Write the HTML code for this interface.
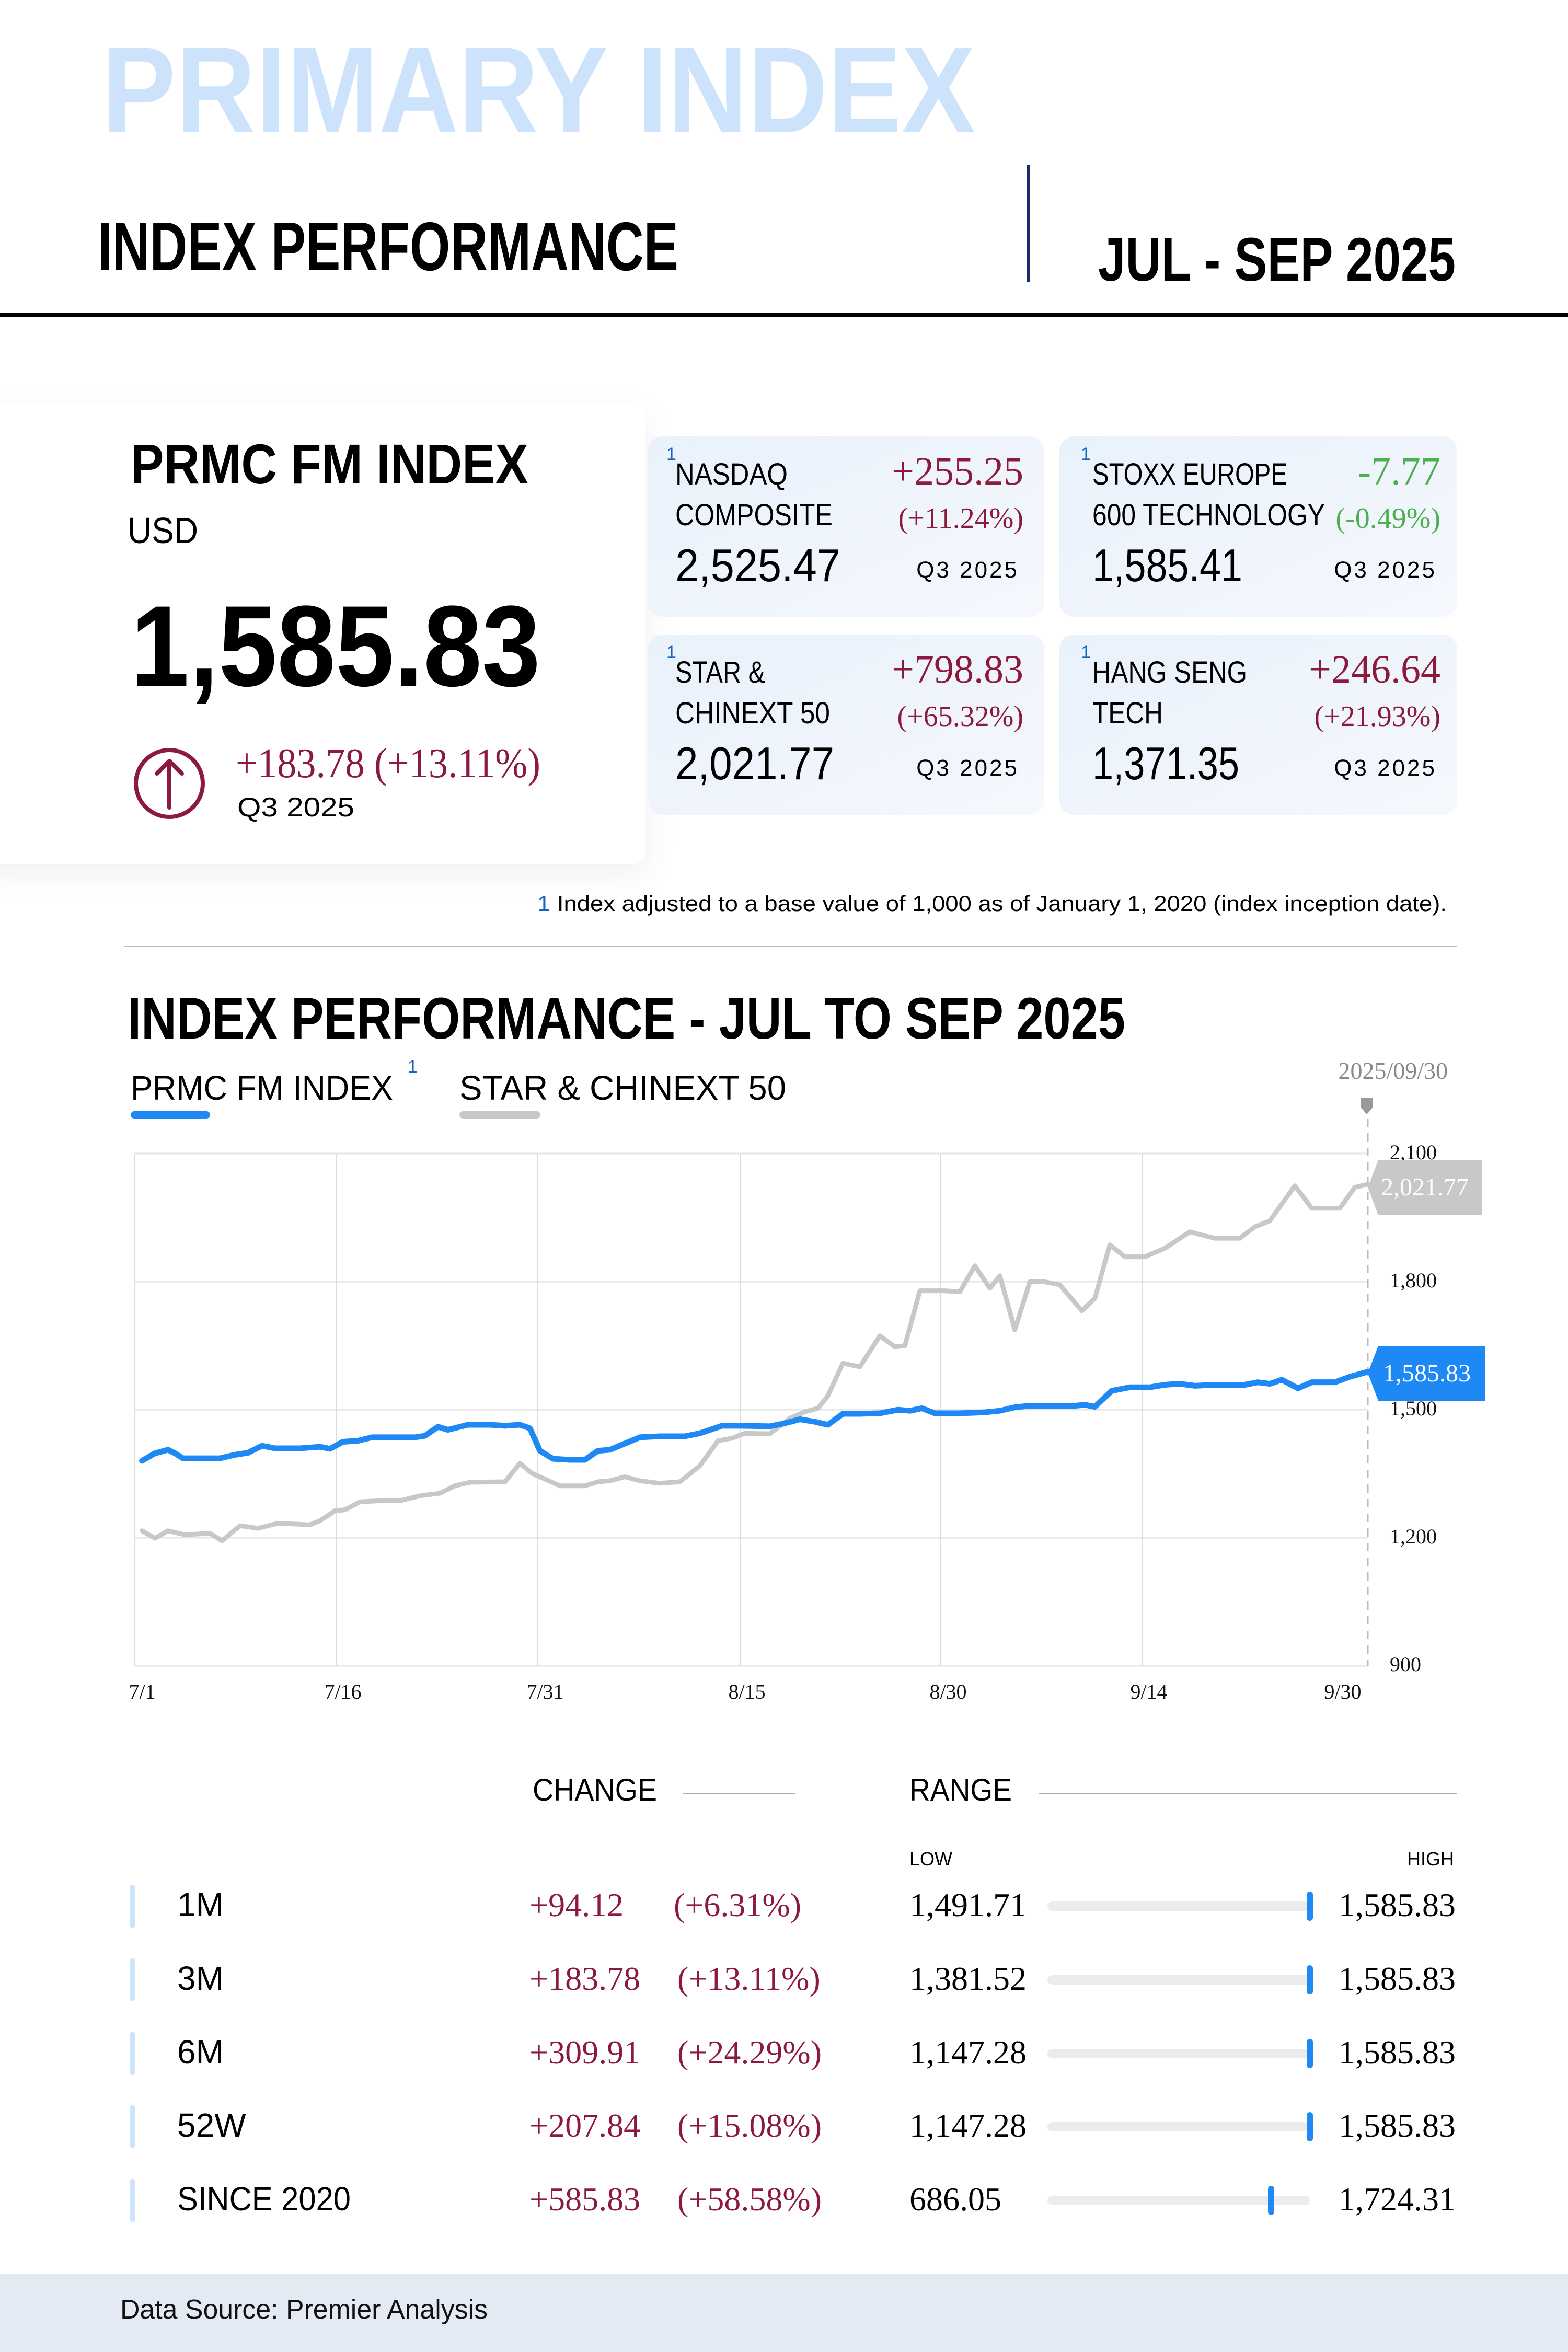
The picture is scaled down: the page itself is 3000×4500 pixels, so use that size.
<!DOCTYPE html>
<html><head><meta charset="utf-8"><style>
html,body{margin:0;padding:0;background:#fff}
svg{display:block}
text{font-family:"Liberation Sans",sans-serif}
text.s,.s text{font-family:"Liberation Serif",serif}
</style></head><body>
<svg width="3000" height="4500" viewBox="0 0 3000 4500" xmlns="http://www.w3.org/2000/svg">
<defs>
<linearGradient id="cg" x1="0" y1="0" x2="1" y2="1"><stop offset="0" stop-color="#e9f1fb"/><stop offset="1" stop-color="#f5f8fd"/></linearGradient>
<filter id="sh" x="-20%" y="-20%" width="140%" height="140%"><feDropShadow dx="0" dy="20" stdDeviation="30" flood-color="#000" flood-opacity="0.06"/></filter>
</defs>
<rect width="3000" height="4500" fill="#fff"/>
<!-- header -->
<text x="195" y="253" font-size="235" font-weight="bold" fill="#cce3fb" textLength="1671" lengthAdjust="spacingAndGlyphs">PRIMARY INDEX</text>
<text x="187" y="517" font-size="132" font-weight="bold" fill="#000" textLength="1111" lengthAdjust="spacingAndGlyphs">INDEX PERFORMANCE</text>
<rect x="1964" y="316" width="6" height="224" fill="#1a2a6c"/>
<text x="2101" y="537" font-size="118" font-weight="bold" fill="#000" textLength="684" lengthAdjust="spacingAndGlyphs">JUL - SEP 2025</text>
<rect x="0" y="599" width="3000" height="8" fill="#000"/>

<!-- main card -->
<rect x="-40" y="775" width="1275" height="878" rx="24" fill="#fff" filter="url(#sh)"/>
<text x="250" y="925" font-size="108" font-weight="bold" textLength="761" lengthAdjust="spacingAndGlyphs">PRMC FM INDEX</text>
<text x="244" y="1039" font-size="70" textLength="135" lengthAdjust="spacingAndGlyphs">USD</text>
<text x="250" y="1312" font-size="220" font-weight="bold" textLength="784" lengthAdjust="spacingAndGlyphs">1,585.83</text>
<circle cx="324" cy="1499" r="64" fill="none" stroke="#8b1a3d" stroke-width="8"/>
<path d="M324 1545 V1458 M300 1480 L324 1456 L348 1480" fill="none" stroke="#8b1a3d" stroke-width="8" stroke-linecap="round" stroke-linejoin="round"/>
<text class="s" x="451" y="1487" font-size="80" fill="#8b1a3d" textLength="583" lengthAdjust="spacingAndGlyphs">+183.78 (+13.11%)</text>
<text x="454" y="1562" font-size="52" textLength="224" lengthAdjust="spacingAndGlyphs">Q3 2025</text>

<!-- cards -->
<rect x="1240" y="835" width="758" height="345" rx="28" fill="url(#cg)"/>
<rect x="2027" y="835" width="761" height="345" rx="28" fill="url(#cg)"/>
<rect x="1240" y="1214" width="758" height="345" rx="28" fill="url(#cg)"/>
<rect x="2027" y="1214" width="761" height="345" rx="28" fill="url(#cg)"/>

<g font-size="58">
<text x="1275" y="880" font-size="34" fill="#1565c0">1</text>
<text x="1292" y="927" textLength="215" lengthAdjust="spacingAndGlyphs">NASDAQ</text>
<text x="1292" y="1005" textLength="301" lengthAdjust="spacingAndGlyphs">COMPOSITE</text>
<text class="s" x="1958" y="927" font-size="76" fill="#8b1a3d" text-anchor="end">+255.25</text>
<text class="s" x="1958" y="1010" font-size="56" fill="#8b1a3d" text-anchor="end">(+11.24%)</text>
<text x="1292" y="1112" font-size="88" textLength="316" lengthAdjust="spacingAndGlyphs">2,525.47</text>
<text x="1950" y="1105" font-size="44" text-anchor="end" letter-spacing="4">Q3 2025</text>

<text x="2068" y="880" font-size="34" fill="#1565c0">1</text>
<text x="2090" y="927" textLength="373" lengthAdjust="spacingAndGlyphs">STOXX EUROPE</text>
<text x="2090" y="1005" textLength="445" lengthAdjust="spacingAndGlyphs">600 TECHNOLOGY</text>
<text class="s" x="2756" y="927" font-size="76" fill="#4caf50" text-anchor="end">-7.77</text>
<text class="s" x="2756" y="1010" font-size="56" fill="#4caf50" text-anchor="end">(-0.49%)</text>
<text x="2090" y="1112" font-size="88" textLength="287" lengthAdjust="spacingAndGlyphs">1,585.41</text>
<text x="2749" y="1105" font-size="44" text-anchor="end" letter-spacing="4">Q3 2025</text>

<text x="1275" y="1259" font-size="34" fill="#1565c0">1</text>
<text x="1292" y="1306" textLength="172" lengthAdjust="spacingAndGlyphs">STAR &amp;</text>
<text x="1292" y="1384" textLength="296" lengthAdjust="spacingAndGlyphs">CHINEXT 50</text>
<text class="s" x="1958" y="1306" font-size="76" fill="#8b1a3d" text-anchor="end">+798.83</text>
<text class="s" x="1958" y="1389" font-size="56" fill="#8b1a3d" text-anchor="end">(+65.32%)</text>
<text x="1292" y="1491" font-size="88" textLength="304" lengthAdjust="spacingAndGlyphs">2,021.77</text>
<text x="1950" y="1484" font-size="44" text-anchor="end" letter-spacing="4">Q3 2025</text>

<text x="2068" y="1259" font-size="34" fill="#1565c0">1</text>
<text x="2090" y="1306" textLength="296" lengthAdjust="spacingAndGlyphs">HANG SENG</text>
<text x="2090" y="1384" textLength="135" lengthAdjust="spacingAndGlyphs">TECH</text>
<text class="s" x="2756" y="1306" font-size="76" fill="#8b1a3d" text-anchor="end">+246.64</text>
<text class="s" x="2756" y="1389" font-size="56" fill="#8b1a3d" text-anchor="end">(+21.93%)</text>
<text x="2090" y="1491" font-size="88" textLength="281" lengthAdjust="spacingAndGlyphs">1,371.35</text>
<text x="2749" y="1484" font-size="44" text-anchor="end" letter-spacing="4">Q3 2025</text>
</g>

<text x="1028" y="1743" font-size="42" textLength="1740" lengthAdjust="spacingAndGlyphs"><tspan fill="#1565c0">1</tspan> Index adjusted to a base value of 1,000 as of January 1, 2020 (index inception date).</text>
<rect x="238" y="1809" width="2550" height="3" fill="#bdbdbd"/>

<!-- chart -->
<text x="244" y="1987" font-size="112" font-weight="bold" textLength="1909" lengthAdjust="spacingAndGlyphs">INDEX PERFORMANCE - JUL TO SEP 2025</text>
<text x="250" y="2104" font-size="66" textLength="502" lengthAdjust="spacingAndGlyphs">PRMC FM INDEX</text>
<text x="780" y="2052" font-size="34" fill="#1565c0">1</text>
<rect x="250" y="2126" width="152" height="14" rx="7" fill="#1e88f5"/>
<text x="879" y="2104" font-size="66" textLength="625" lengthAdjust="spacingAndGlyphs">STAR &amp; CHINEXT 50</text>
<rect x="879" y="2126" width="155" height="14" rx="7" fill="#c8c8c8"/>
<text class="s" x="2770" y="2064" font-size="46" fill="#888" text-anchor="end">2025/09/30</text>
<path d="M2603 2100 H2627 V2118 L2615 2132 L2603 2118 Z" fill="#999"/>

<g stroke="#e6e6e6" stroke-width="3">
<line x1="258" y1="2207" x2="2617" y2="2207"/>
<line x1="258" y1="2452" x2="2617" y2="2452"/>
<line x1="258" y1="2697" x2="2617" y2="2697"/>
<line x1="258" y1="2942" x2="2617" y2="2942"/>
<line x1="258" y1="3187" x2="2617" y2="3187"/>
</g>
<g stroke="#dcdcdc" stroke-width="2">
<line x1="258" y1="2207" x2="258" y2="3187"/>
<line x1="643" y1="2207" x2="643" y2="3187"/>
<line x1="1029" y1="2207" x2="1029" y2="3187"/>
<line x1="1416" y1="2207" x2="1416" y2="3187"/>
<line x1="1800" y1="2207" x2="1800" y2="3187"/>
<line x1="2185" y1="2207" x2="2185" y2="3187"/>
</g>
<line x1="2617" y1="2140" x2="2617" y2="3187" stroke="#bbb" stroke-width="3" stroke-dasharray="16 12"/>

<g transform="translate(0,1800) scale(1.913,0.9566)" fill="none" stroke-linejoin="round" stroke-linecap="round">
<polyline vector-effect="non-scaling-stroke" stroke="#c8c8c8" stroke-width="9" points="142,1180 155,1195 168,1180 185,1188 210,1185 222,1200 240,1170 258,1175 278,1165 310,1168 320,1160 335,1140 345,1138 360,1122 380,1120 400,1120 420,1110 440,1105 455,1090 470,1083 505,1082 520,1045 532,1065 560,1090 585,1090 598,1082 610,1080 625,1072 640,1080 660,1085 680,1082 700,1050 718,1000 732,995 745,985 770,986 790,955 805,942 818,935 828,910 843,845 860,852 880,790 895,812 905,810 920,700 945,700 960,702 975,650 990,695 1000,670 1015,778 1030,682 1045,682 1060,688 1082,740 1095,715 1110,608 1125,632 1145,632 1165,615 1190,582 1215,595 1240,595 1255,572 1270,560 1295,490 1312,535 1325,535 1340,535 1355,493 1368,487"/>
<polyline vector-effect="non-scaling-stroke" stroke="#1e88f5" stroke-width="11" points="142,1040 155,1025 168,1018 175,1025 183,1035 200,1035 220,1035 235,1028 248,1024 262,1010 275,1015 300,1015 320,1012 330,1016 343,1002 358,1000 372,993 400,993 415,993 425,990 438,972 448,978 468,968 490,968 505,970 520,968 530,975 540,1020 553,1036 570,1038 585,1038 598,1020 610,1018 622,1008 640,993 660,991 685,991 700,985 722,970 740,970 770,971 785,965 800,957 815,962 828,968 843,946 860,946 880,945 898,938 910,940 922,935 935,945 960,945 985,943 1000,940 1015,933 1030,930 1060,930 1075,930 1085,928 1095,932 1112,900 1130,893 1150,893 1165,888 1180,886 1195,890 1215,888 1245,888 1258,883 1270,886 1282,878 1298,895 1312,883 1335,883 1350,872 1368,862"/>
</g>

<g class="s" font-size="40" fill="#111">
<text x="2659" y="2218">2,100</text>
<text x="2659" y="2463">1,800</text>
<text x="2659" y="2708">1,500</text>
<text x="2659" y="2953">1,200</text>
<text x="2659" y="3198">900</text>
<text x="272" y="3250" text-anchor="middle">7/1</text>
<text x="656" y="3250" text-anchor="middle">7/16</text>
<text x="1043" y="3250" text-anchor="middle">7/31</text>
<text x="1429" y="3250" text-anchor="middle">8/15</text>
<text x="1814" y="3250" text-anchor="middle">8/30</text>
<text x="2198" y="3250" text-anchor="middle">9/14</text>
<text x="2569" y="3250" text-anchor="middle">9/30</text>
</g>
<path d="M2617 2272 L2637 2219 H2835 V2325 H2637 Z" fill="#c8c8c8"/>
<text class="s" x="2726" y="2287" font-size="48" fill="#fff" text-anchor="middle">2,021.77</text>
<path d="M2617 2627 L2637 2575 H2841 V2680 H2637 Z" fill="#1e88f5"/>
<text class="s" x="2730" y="2643" font-size="48" fill="#fff" text-anchor="middle">1,585.83</text>

<!-- table -->
<text x="1019" y="3445" font-size="60" textLength="238" lengthAdjust="spacingAndGlyphs">CHANGE</text>
<rect x="1306" y="3430" width="216" height="3" fill="#aaa"/>
<text x="1740" y="3445" font-size="60" textLength="196" lengthAdjust="spacingAndGlyphs">RANGE</text>
<rect x="1987" y="3430" width="801" height="3" fill="#aaa"/>
<text x="1740" y="3569" font-size="36">LOW</text>
<text x="2782" y="3569" font-size="36" text-anchor="end">HIGH</text>

<g font-size="64">
<g fill="#cce3fb"><rect x="249" y="3606" width="9" height="82" rx="4"/><rect x="249" y="3747" width="9" height="82" rx="4"/><rect x="249" y="3888" width="9" height="82" rx="4"/><rect x="249" y="4028" width="9" height="82" rx="4"/><rect x="249" y="4169" width="9" height="82" rx="4"/></g>
<text x="339" y="3666">1M</text>
<text x="339" y="3807">3M</text>
<text x="339" y="3948">6M</text>
<text x="339" y="4088">52W</text>
<text x="339" y="4229" textLength="332" lengthAdjust="spacingAndGlyphs">SINCE 2020</text>
<g class="s" fill="#8b1a3d">
<text x="1013" y="3666">+94.12</text><text x="1289" y="3666">(+6.31%)</text>
<text x="1013" y="3807">+183.78</text><text x="1296" y="3807">(+13.11%)</text>
<text x="1013" y="3948">+309.91</text><text x="1296" y="3948">(+24.29%)</text>
<text x="1013" y="4088">+207.84</text><text x="1296" y="4088">(+15.08%)</text>
<text x="1013" y="4229">+585.83</text><text x="1296" y="4229">(+58.58%)</text>
</g>
<g class="s">
<text x="1740" y="3666">1,491.71</text>
<text x="1740" y="3807">1,381.52</text>
<text x="1740" y="3948">1,147.28</text>
<text x="1740" y="4088">1,147.28</text>
<text x="1740" y="4229">686.05</text>
<text x="2785" y="3666" text-anchor="end">1,585.83</text>
<text x="2785" y="3807" text-anchor="end">1,585.83</text>
<text x="2785" y="3948" text-anchor="end">1,585.83</text>
<text x="2785" y="4088" text-anchor="end">1,585.83</text>
<text x="2785" y="4229" text-anchor="end">1,724.31</text>
</g>
<g fill="#ececec"><rect x="2004" y="3638" width="502" height="18" rx="9"/><rect x="2004" y="3779" width="502" height="18" rx="9"/><rect x="2004" y="3920" width="502" height="18" rx="9"/><rect x="2004" y="4060" width="502" height="18" rx="9"/><rect x="2004" y="4201" width="502" height="18" rx="9"/></g>
<g fill="#1e88f5"><rect x="2500" y="3619" width="12" height="56" rx="6"/><rect x="2500" y="3760" width="12" height="56" rx="6"/><rect x="2500" y="3901" width="12" height="56" rx="6"/><rect x="2500" y="4041" width="12" height="56" rx="6"/><rect x="2426" y="4182" width="12" height="56" rx="6"/></g>
</g>

<!-- footer -->
<rect x="0" y="4350" width="3000" height="150" fill="#e3eaf4"/>
<text x="230" y="4436" font-size="52" fill="#111" textLength="703" lengthAdjust="spacingAndGlyphs">Data Source: Premier Analysis</text>
</svg>
</body></html>
